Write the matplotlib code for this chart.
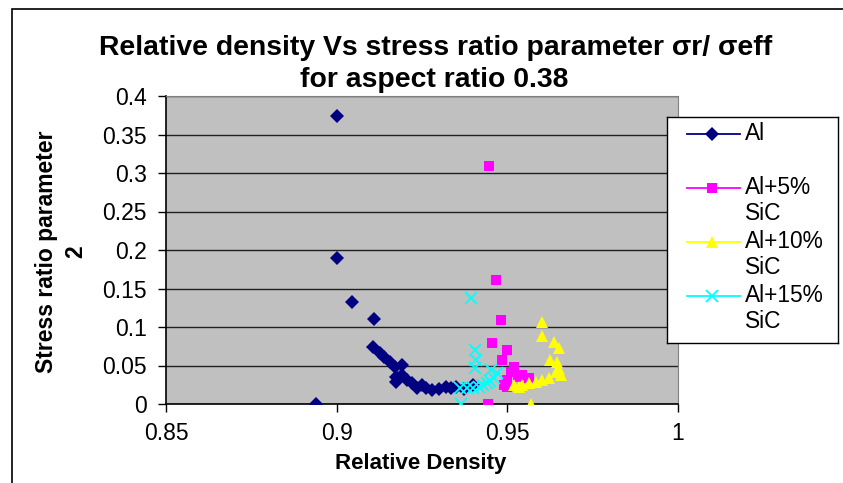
import matplotlib.pyplot as plt
from matplotlib.lines import Line2D
from matplotlib.patches import Rectangle

plt.rcParams['font.family'] = ['Liberation Sans', 'DejaVu Sans']

# relative density / stress ratio readings for each material
al_x = [0.8939, 0.9000, 0.9000, 0.9044, 0.9110, 0.9105, 0.9126, 0.9140, 0.9155, 0.9170,
        0.9190, 0.9175, 0.9175, 0.9190, 0.9205, 0.9220, 0.9234, 0.9250, 0.9263, 0.9280,
        0.9300, 0.9320, 0.9336, 0.9350, 0.9374, 0.9400]
al_y = [0.000, 0.374, 0.190, 0.133, 0.110, 0.074, 0.066, 0.061, 0.055, 0.048,
        0.051, 0.035, 0.029, 0.038, 0.031, 0.027, 0.021, 0.025, 0.021, 0.018,
        0.019, 0.022, 0.021, 0.022, 0.019, 0.025]

sic5_x = [0.9447, 0.9468, 0.9480, 0.9456, 0.9500, 0.9485, 0.9520, 0.9500, 0.9500, 0.9530,
          0.9544, 0.9564, 0.9444, 0.9510, 0.9490]
sic5_y = [0.309, 0.161, 0.109, 0.079, 0.070, 0.057, 0.048, 0.031, 0.022, 0.035,
          0.038, 0.034, 0.000, 0.042, 0.025]

sic10_x = [0.9602, 0.9602, 0.9637, 0.9652, 0.9626, 0.9646, 0.9658, 0.9643, 0.9623, 0.9602,
           0.9585, 0.9564, 0.9544, 0.9535, 0.9520, 0.9570, 0.9650]
sic10_y = [0.106, 0.088, 0.081, 0.073, 0.057, 0.055, 0.038, 0.042, 0.034, 0.031,
           0.029, 0.027, 0.025, 0.022, 0.025, 0.000, 0.046]

sic15_x = [0.9395, 0.9404, 0.9409, 0.9404, 0.9360, 0.9365, 0.9453, 0.9471, 0.9462, 0.9439,
           0.9418, 0.9398, 0.9383, 0.9430, 0.9450]
sic15_y = [0.138, 0.070, 0.057, 0.047, 0.021, 0.000, 0.044, 0.040, 0.034, 0.027,
           0.022, 0.021, 0.021, 0.025, 0.030]

labels = ['Al', 'Al+5%\nSiC', 'Al+10%\nSiC', 'Al+15%\nSiC']
x_ticks = [0.85, 0.9, 0.95, 1]
y_ticks = [0, 0.05, 0.1, 0.15, 0.2, 0.25, 0.3, 0.35, 0.4]

series = [
    (al_x, al_y, dict(marker='D', color='#000080', ms=7)),
    (sic5_x, sic5_y, dict(marker='s', color='#FF00FF', ms=7.5)),
    (sic10_x, sic10_y, dict(marker='^', color='#FFFF00', ms=9)),
    (sic15_x, sic15_y, dict(marker='x', color='#00FFFF', ms=9, mew=1.3)),
]

fig = plt.figure(figsize=(8.43, 4.83), dpi=100)

# chart border
fig.patches.append(Rectangle((12 / 843, -0.1), 1.2, 1 - 9 / 483 + 0.1,
                             transform=fig.transFigure, fill=False,
                             edgecolor='black', linewidth=1.2))

ax = fig.add_axes([166 / 843, 1 - 404 / 483, 512 / 843, 308 / 483])
ax.set_facecolor('#C0C0C0')
for xs, ys, st in series:
    st = dict(st)
    ax.plot(xs, ys, linestyle='none', markeredgewidth=st.pop('mew', 0), **st, zorder=3)

ax.set_xlim(0.85, 1)
ax.set_ylim(0, 0.4)
ax.set_xticks(x_ticks)
ax.set_xticklabels([str(v) for v in x_ticks])
ax.set_yticks(y_ticks)
ax.set_yticklabels([f'{v:g}' for v in y_ticks])
ax.tick_params(labelsize=16.5, length=6, width=1, direction='out')
ax.tick_params(axis='x', pad=7)
ax.tick_params(axis='y', pad=8)
ax.grid(axis='y', color='#202020', linewidth=1)
ax.set_axisbelow(True)
for s in ['top', 'right']:
    ax.spines[s].set_color('#808080')
for s in ['left', 'bottom']:
    ax.spines[s].set_color('black')
    ax.spines[s].set_linewidth(1.2)

fig.text(421 / 843, 1 - 463 / 483, 'Relative Density',
         ha='center', va='center', fontsize=16, fontweight='bold')
fig.text(61 / 843, 1 - 252 / 483, 'Stress ratio parameter\n2', rotation=90,
         ha='center', va='center', fontsize=16.5, fontweight='bold', linespacing=1.35)

fig.text(436 / 843, 1 - 48 / 483, 'Relative density Vs stress ratio parameter \u03c3r/ \u03c3eff',
         ha='center', va='center', fontsize=20.4, fontweight='bold')
fig.text(434 / 843, 1 - 80 / 483, 'for aspect ratio 0.38',
         ha='center', va='center', fontsize=20.4, fontweight='bold')

# legend box, handle on the first line of each label
lax = fig.add_axes([667 / 843, 1 - 343 / 483, 171 / 843, 226 / 483])
lax.set_xlim(0, 171)
lax.set_ylim(226, 0)
lax.set_xticks([])
lax.set_yticks([])
lax.set_facecolor('white')
for s in lax.spines.values():
    s.set_linewidth(1)
row = 17
for (xs, ys, st), lab in zip(series, labels):
    lax.add_line(Line2D([20, 73], [row, row], color=st['color'], linewidth=1.3))
    lax.plot([45], [row], linestyle='none', marker=st['marker'], color=st['color'],
             ms=st['ms'], markeredgewidth=st.get('mew', 0))
    lax.text(78, row - 12, lab, va='top', ha='left', fontsize=16.4, linespacing=1.15)
    row += 54

fig.savefig('out.png', dpi=100)
